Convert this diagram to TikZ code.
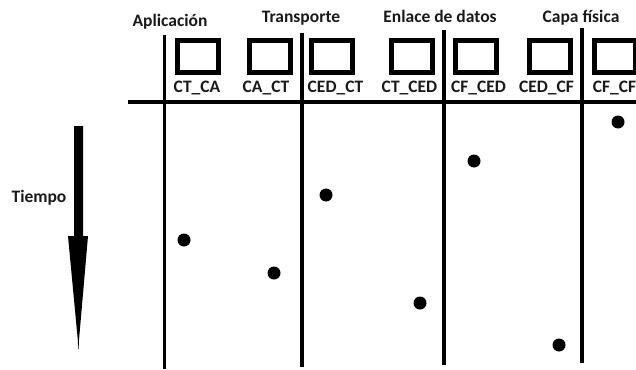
\documentclass[tikz,border=0pt]{standalone}
\usepackage{fontspec}
\setmainfont{Carlito}
\begin{document}
\begin{tikzpicture}[x=1pt,y=-1pt,
  lbl/.style={font=\bfseries\fontsize{17.5}{20}\selectfont, anchor=base, inner sep=0pt, text=black!90},
  slot/.style={draw, line width=5pt, minimum width=41pt, minimum height=32pt, inner sep=0pt},
  evt/.style={circle, fill=black, minimum size=13pt, inner sep=0pt},
  rule/.style={line width=3.5pt}]
\useasboundingbox (0,0) rectangle (636,369);
% headers
\node[lbl] (hA) at (170,27) {Aplicación};
\node[lbl] (hT) at (301,22.5) {Transporte};
\node[lbl] (hE) at (440,22.5) {Enlace de datos};
\node[lbl] (hC) at (581,22.5) {Capa física};
% boxes
\node[slot] (b1) at (198,56.5) {};
\node[slot] (b2) at (269.5,56.5) {};
\node[slot] (b3) at (332,56.5) {};
\node[slot] (b4) at (412,56.5) {};
\node[slot] (b5) at (476,56.5) {};
\node[slot] (b6) at (549.5,56.5) {};
\node[slot] (b7) at (614.5,56.5) {};
% box labels
\node[lbl] (l1) at (197,92) {CT\_CA};
\node[lbl] (l2) at (266,92) {CA\_CT};
\node[lbl] (l3) at (335.5,92) {CED\_CT};
\node[lbl] (l4) at (409.5,92) {CT\_CED};
\node[lbl] (l5) at (478.5,92) {CF\_CED};
\node[lbl] (l6) at (546.5,92) {CED\_CF};
\node[lbl] (l7) at (614.5,92) {CF\_CF};
% grid lines
\coordinate (h0) at (128,102);
\coordinate (h1) at (636,102);
\draw[rule] (h0) -- (h1);
\coordinate (v1t) at (164.5,35);  \coordinate (v1b) at (164.5,369);
\coordinate (v2t) at (302,33);  \coordinate (v2b) at (302,367);
\coordinate (v3t) at (444,30);  \coordinate (v3b) at (444,365);
\coordinate (v4t) at (582,28);  \coordinate (v4b) at (582,363);
\draw[rule] (v1t) -- (v1b);
\draw[rule] (v2t) -- (v2b);
\draw[rule] (v3t) -- (v3b);
\draw[rule] (v4t) -- (v4b);
% events
\node[evt] (e1) at (184,240) {};
\node[evt] (e2) at (274,273) {};
\node[evt] (e3) at (326,195) {};
\node[evt] (e4) at (420,303) {};
\node[evt] (e5) at (474,161) {};
\node[evt] (e6) at (559,345) {};
\node[evt] (e7) at (618,122) {};
% time arrow
\node[lbl] (tiempo) at (39,202) {Tiempo};
\fill[black] (74,126) -- (83,126) -- (83,236) -- (88,236) -- (79,340) -- (78.6,349) -- (78.2,349) -- (77.8,340) -- (68,236) -- (74,236) -- cycle;
\end{tikzpicture}
\end{document}
